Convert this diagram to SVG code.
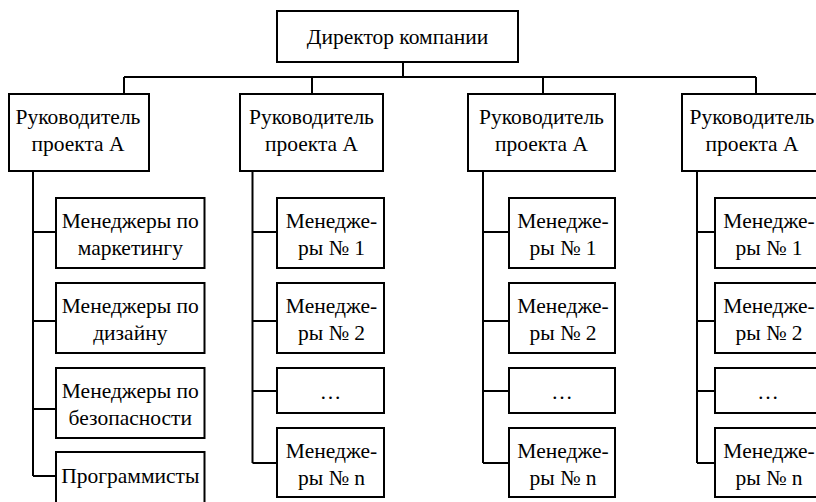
<svg xmlns="http://www.w3.org/2000/svg" width="816" height="502" viewBox="0 0 816 502">
<style>
rect{fill:#fff;stroke:#000;stroke-width:2}
.c path{fill:none;stroke:#000;stroke-width:2}
text{font-family:'Liberation Serif','Times New Roman',serif;font-size:21.5px;fill:#000;text-anchor:middle}
</style>
<rect x="0" y="0" width="816" height="502" style="stroke:none"/>
<g class="c" id="connectors">
<path d="M403 62V77M124 77H756M124 77V94M312 77V94M543 77V94M756 77V94"/>
<path d="M33 171V476M33 232H56M33 321H56M33 409H56M33 476H56"/>
<path d="M252.5 171V463M252.5 232H277M252.5 321H277M252.5 391H277M252.5 463H277"/>
<path d="M483 171V463M483 232H509M483 321H509M483 391H509M483 463H509"/>
<path d="M697 171V463M697 232H715M697 321H715M697 391H715M697 463H715"/>
</g>
<g id="director"><rect x="277" y="11" width="241" height="51"/><text x="397.5" y="43.5">Директор компании</text></g>
<g id="lead1"><rect x="9" y="94" width="140" height="77"/><text x="78" y="123.5">Руководитель</text><text x="78" y="150.5">проекта А</text></g>
<g id="lead2"><rect x="240" y="94" width="143" height="77"/><text x="311.5" y="123.5">Руководитель</text><text x="311.5" y="150.5">проекта А</text></g>
<g id="lead3"><rect x="468" y="94" width="147" height="77"/><text x="541.5" y="123.5">Руководитель</text><text x="541.5" y="150.5">проекта А</text></g>
<g id="lead4"><rect x="682" y="94" width="142" height="77"/><text x="752" y="123.5">Руководитель</text><text x="752" y="150.5">проекта А</text></g>

<g id="c1m1"><rect x="56" y="198" width="148.5" height="70"/><text x="130.3" y="228">Менеджеры по</text><text x="130.3" y="255">маркетингу</text></g>
<g id="c1m2"><rect x="56" y="283" width="148.5" height="70"/><text x="130.3" y="313">Менеджеры по</text><text x="130.3" y="340">дизайну</text></g>
<g id="c1m3"><rect x="56" y="368" width="148.5" height="70"/><text x="130.3" y="398">Менеджеры по</text><text x="130.3" y="425">безопасности</text></g>
<g id="c1m4"><rect x="56" y="452" width="148.5" height="70"/><text x="130.3" y="483">Программисты</text></g>

<g id="c2m1"><rect x="277" y="198" width="107" height="70"/><text x="331.5" y="228">Менедже-</text><text x="331.5" y="255">ры № 1</text></g>
<g id="c2m2"><rect x="277" y="283" width="107" height="70"/><text x="331.5" y="313">Менедже-</text><text x="331.5" y="340">ры № 2</text></g>
<g id="c2m3"><rect x="277" y="368" width="107" height="45"/><text x="330.5" y="399">…</text></g>
<g id="c2m4"><rect x="277" y="428" width="107" height="69"/><text x="331.5" y="458">Менедже-</text><text x="331.5" y="485">ры № n</text></g>

<g id="c3m1"><rect x="509" y="198" width="106" height="70"/><text x="563" y="228">Менедже-</text><text x="563" y="255">ры № 1</text></g>
<g id="c3m2"><rect x="509" y="283" width="106" height="70"/><text x="563" y="313">Менедже-</text><text x="563" y="340">ры № 2</text></g>
<g id="c3m3"><rect x="509" y="368" width="106" height="45"/><text x="562" y="399">…</text></g>
<g id="c3m4"><rect x="509" y="428" width="106" height="69"/><text x="563" y="458">Менедже-</text><text x="563" y="485">ры № n</text></g>

<g id="c4m1"><rect x="715" y="198" width="106" height="70"/><text x="769" y="228">Менедже-</text><text x="769" y="255">ры № 1</text></g>
<g id="c4m2"><rect x="715" y="283" width="106" height="70"/><text x="769" y="313">Менедже-</text><text x="769" y="340">ры № 2</text></g>
<g id="c4m3"><rect x="715" y="368" width="106" height="45"/><text x="768" y="399">…</text></g>
<g id="c4m4"><rect x="715" y="428" width="106" height="69"/><text x="769" y="458">Менедже-</text><text x="769" y="485">ры № n</text></g>
</svg>
